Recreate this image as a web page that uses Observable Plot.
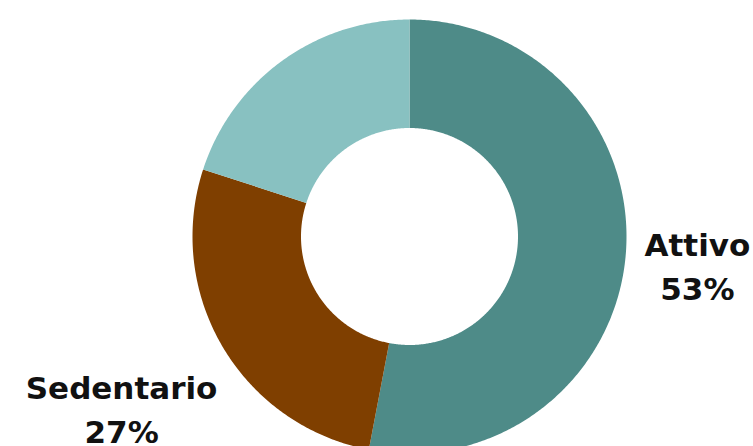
<!DOCTYPE html>
<html>
<head>
<meta charset="utf-8">
<script src="https://cdn.jsdelivr.net/npm/d3@7"></script>
<script src="https://cdn.jsdelivr.net/npm/@observablehq/plot@0.6"></script>
<style>
  html, body { margin: 0; padding: 0; background: #fff; }
</style>
</head>
<body>
<div id="chart"></div>
<script>
const categories = ["Attivo", "Sedentario", "Moderatamente attivo"];
const values = [53, 27, 20];
const colors = ["#4E8B88", "#7F3F00", "#88C1C1"];

const W = 753, H = 446;
const cx = 409, cy = 236, R = 217, innerRatio = 0.5;
const fontSize = 31, lineHeight = 1.42, pad = 16;
const fontFamily = "DejaVu Sans";
const font = `bold ${fontSize}px "${fontFamily}"`;

const total = d3.sum(values);
let acc = 0;
const slices = categories.map((cat, i) => {
  const a0 = acc / total * 2 * Math.PI;
  acc += values[i];
  const a1 = acc / total * 2 * Math.PI;
  return {cat, value: values[i], a0, a1};
});

const points = [];
for (const s of slices) {
  const n = Math.max(2, Math.ceil((s.a1 - s.a0) / (Math.PI / 360)));
  for (let k = 0; k <= n; k++) {
    const a = s.a0 + (s.a1 - s.a0) * k / n;
    points.push({cat: s.cat, x: Math.sin(a), y: Math.cos(a)});
  }
  for (let k = n; k >= 0; k--) {
    const a = s.a0 + (s.a1 - s.a0) * k / n;
    points.push({cat: s.cat, x: innerRatio * Math.sin(a), y: innerRatio * Math.cos(a)});
  }
}

const ctx = document.createElement("canvas").getContext("2d");
ctx.font = font;
const labels = slices.map(s => {
  const m = (s.a0 + s.a1) / 2;
  const sx = Math.sin(m), cy_ = Math.cos(m);
  const text = `${s.cat}\n${s.value}%`;
  const w = Math.max(ctx.measureText(s.cat).width, ctx.measureText(`${s.value}%`).width);
  const h = fontSize * lineHeight * 1.7;
  const r = 1 + (pad + Math.abs(sx) * w / 2 + Math.abs(cy_) * h / 2) / R;
  return {text, x: r * sx, y: r * cy_};
});

const chart = Plot.plot({
  width: W,
  height: H,
  margin: 0,
  x: {domain: [-1, 1], range: [cx - R, cx + R], axis: null},
  y: {domain: [-1, 1], range: [cy + R, cy - R], axis: null},
  color: {domain: categories, range: colors},
  style: {background: "#fff", overflow: "visible"},
  marks: [
    Plot.line(points, {x: "x", y: "y", z: "cat", fill: "cat", stroke: null, curve: "linear"}),
    Plot.text(labels, {
      x: "x", y: "y", text: "text",
      fontSize, fontWeight: "bold", fontFamily,
      lineHeight, textAnchor: "middle", lineAnchor: "middle", fill: "#111"
    })
  ]
});
document.getElementById("chart").appendChild(chart);
</script>
</body>
</html>
